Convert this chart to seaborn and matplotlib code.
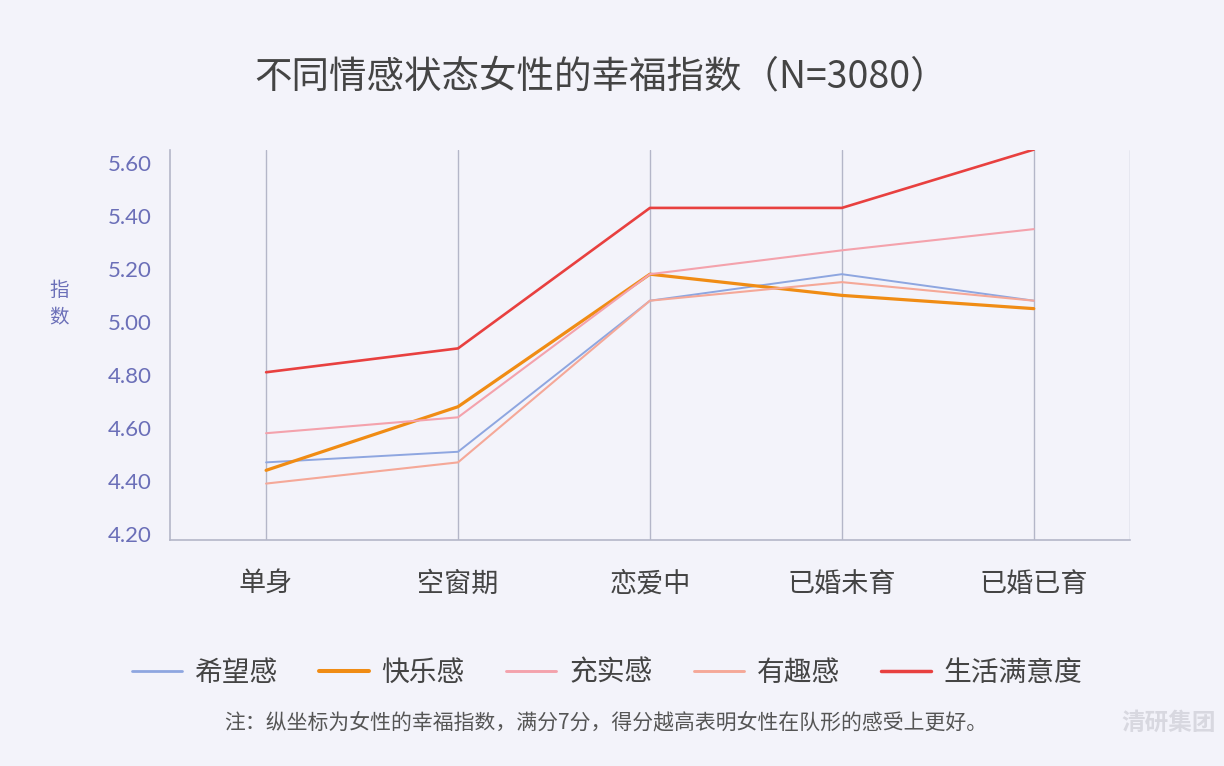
import matplotlib
matplotlib.use("Agg")
import matplotlib.pyplot as plt
import seaborn as sns
import pandas as pd

categories = ["单身", "空窗期", "恋爱中", "已婚未育", "已婚已育"]
series_names = ["希望感", "快乐感", "充实感", "有趣感", "生活满意度"]
hope = [4.47, 4.51, 5.08, 5.18, 5.08]
happy = [4.44, 4.68, 5.18, 5.10, 5.05]
fulfil = [4.58, 4.64, 5.18, 5.27, 5.35]
fun = [4.39, 4.47, 5.08, 5.15, 5.08]
satisfaction = [4.81, 4.90, 5.43, 5.43, 5.65]
yticks = [4.20, 4.40, 4.60, 4.80, 5.00, 5.20, 5.40, 5.60]

colors = ["#8ea6e0", "#f08c14", "#f4a2ac", "#f5a898", "#e8403f"]
widths = [1.4, 2.3, 1.5, 1.5, 1.9]

rows = []
for name, vals in zip(series_names, [hope, happy, fulfil, fun, satisfaction]):
    for c, v in zip(categories, vals):
        rows.append({"状态": c, "指数": v, "系列": name})
df = pd.DataFrame(rows)

sns.set_style("white")
plt.rcParams['font.family'] = ['Noto Sans CJK SC', 'DejaVu Sans']

bg = "#f3f3fa"
fig = plt.figure(figsize=(12.24, 7.66), dpi=100, facecolor=bg)
ax = fig.add_axes([0.139, 0.295, 0.784, 0.509])
ax.set_facecolor(bg)

sns.lineplot(data=df, x="状态", y="指数", hue="系列", hue_order=series_names,
             palette=colors, ax=ax, legend=False, sort=False)
for line, w in zip(ax.get_lines(), widths):
    line.set_linewidth(w)

ax.set_xlim(-0.5, 4.5)
ax.set_ylim(4.177, 5.648)
ax.set_yticks(yticks)
ax.set_yticklabels([f"{t:.2f}" for t in yticks], color="#6b6fb8", fontsize=16,
                   family=['Lato', 'DejaVu Sans'])
ax.set_xticks(range(len(categories)))
ax.set_xticklabels(categories, fontsize=19.5, color="#444444")
ax.tick_params(axis='x', length=0, pad=22)
ax.tick_params(axis='y', length=0, pad=45)
for lab in ax.get_yticklabels():
    lab.set_horizontalalignment('left')
ax.set_xlabel("")
ax.set_ylabel("")

for i in range(len(categories)):
    ax.axvline(i, color="#b4b6c8", lw=1, zorder=0)
ax.axvline(4.5, color="#b4b6c8", lw=1, zorder=0)
for s in ["top", "right"]:
    ax.spines[s].set_visible(False)
for s in ["left", "bottom"]:
    ax.spines[s].set_color("#b4b6c8")
    ax.spines[s].set_linewidth(1.2)

fig.text(0.048, 0.603, "指\n数", color="#6b6fb8", fontsize=14, ha="center",
         va="center", linespacing=1.35)

fig.text(0.491, 0.899, "不同情感状态女性的幸福指数（N=3080）", fontsize=27,
         color="#444444", ha="center", va="center", fontweight="light")

handles = [plt.Line2D([0], [0], color=c, lw=w + 0.6) for c, w in zip(colors, widths)]
fig.legend(handles, series_names, loc="center", bbox_to_anchor=(0.496, 0.122),
           ncol=5, frameon=False, fontsize=20, handlelength=1.8,
           columnspacing=1.5, handletextpad=0.45, labelcolor="#444444")

fig.text(0.495, 0.057, "注：纵坐标为女性的幸福指数，满分7分，得分越高表明女性在队形的感受上更好。",
         fontsize=15, color="#555555", ha="center", va="center")
fig.text(0.955, 0.057, "清研集团", fontsize=17, color="#d8d8e0", ha="center",
         va="center", fontweight="bold")

fig.savefig("out.png", dpi=100, facecolor=bg)
